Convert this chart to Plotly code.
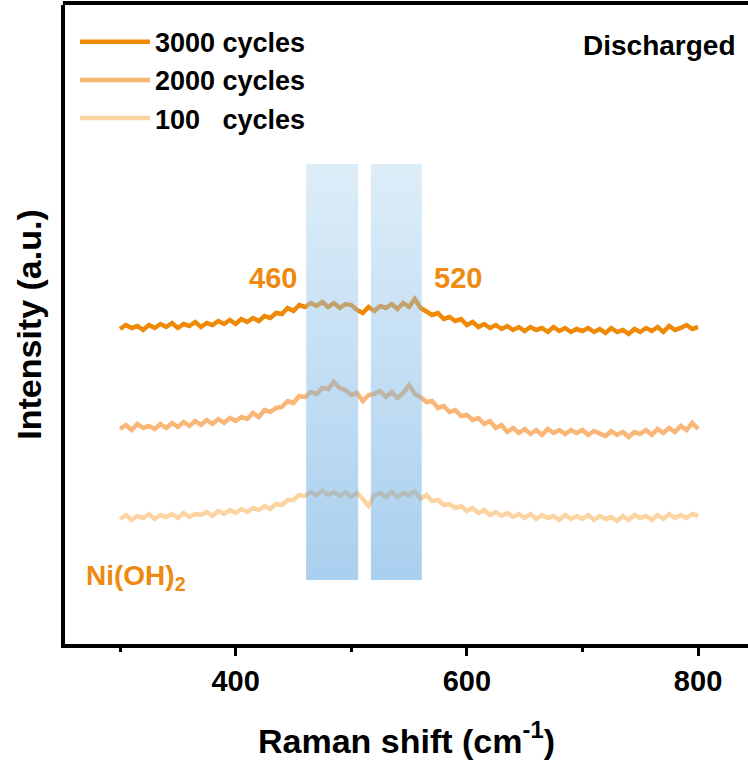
import plotly.graph_objects as go

# ---- data ----
raman_shift = list(range(300, 805, 5))

cycles_3000 = [
    315, 319, 316, 318, 314, 319, 316, 320, 317, 321,
    316, 320, 318, 322, 317, 321, 319, 323, 320, 324,
    320, 325, 322, 326, 323, 328, 326, 331, 330, 336,
    333, 339, 337, 341, 338, 342, 337, 341, 336, 340,
    339, 334, 331, 337, 333, 338, 336, 340, 335, 341,
    337, 345, 336, 333, 329, 331, 325, 327, 323, 325,
    319, 322, 317, 320, 316, 319, 315, 318, 314, 317,
    313, 317, 314, 316, 312, 317, 313, 316, 312, 315,
    313, 316, 312, 315, 311, 316, 312, 314, 310, 315,
    312, 316, 313, 317, 312, 318, 314, 316, 319, 315,
    317,
]
cycles_2000 = [
    215, 219, 214, 220, 216, 218, 215, 220, 216, 221,
    217, 222, 218, 223, 219, 224, 220, 225, 221, 226,
    223, 227, 225, 231, 227, 234, 232, 236, 237, 243,
    241, 248, 247, 252, 250, 256, 255, 262, 256, 254,
    249, 251, 243, 249, 250, 253, 247, 252, 246, 251,
    259, 250, 247, 242, 243, 236, 238, 232, 234, 228,
    229, 224, 226, 220, 223, 216, 219, 212, 216, 211,
    215, 210, 214, 209, 215, 211, 214, 210, 214, 211,
    214, 209, 213, 211, 208, 213, 209, 212, 207, 212,
    210, 214, 209, 215, 211, 216, 212, 218, 214, 221,
    215,
]
cycles_100 = [
    125, 129, 124, 128, 126, 130, 125, 129, 127, 130,
    126, 131, 127, 130, 129, 132, 128, 133, 130, 134,
    131, 135, 132, 136, 134, 138, 135, 140, 139, 144,
    144, 149, 148, 152, 149, 153, 149, 152, 148, 152,
    147, 151, 145, 138, 149, 151, 147, 152, 147, 151,
    149, 153, 145, 149, 143, 144, 139, 140, 136, 138,
    133, 136, 131, 134, 129, 132, 128, 131, 127, 130,
    126, 130, 125, 129, 126, 128, 124, 129, 125, 128,
    125, 129, 124, 128, 125, 127, 123, 128, 124, 129,
    126, 128, 124, 129, 125, 130, 126, 129, 126, 130,
    128,
]

series_names = ["3000 cycles", "2000 cycles", "100\u00a0\u00a0\u00a0cycles"]
series_values = [cycles_3000, cycles_2000, cycles_100]
series_colors = ["#EF8A07", "#F9B677", "#FCD4A2"]

band_ranges = [(461, 506), (517, 561)]   # highlighted Raman bands
band_low, band_high = 64, 480
peak_labels = ["460", "520"]
peak_label_x = [432, 592]
peak_label_y = 366

X_RANGE = [252.4, 843.2]
Y_RANGE = [0, 639]

ORANGE = "#EE8A10"
FONT = "Liberation Sans, Arial, sans-serif"

fig = go.Figure()

for name, vals, col in zip(series_names, series_values, series_colors):
    fig.add_trace(go.Scatter(
        x=raman_shift, y=vals, mode="lines", name=name,
        line=dict(color=col, width=4.5),
    ))

for lo, hi in band_ranges:
    fig.add_trace(go.Scatter(
        x=[lo, hi, hi, lo, lo],
        y=[band_low, band_low, band_high, band_high, band_low],
        mode="lines", fill="toself", line=dict(width=0),
        fillgradient=dict(
            type="vertical",
            colorscale=[[0, "rgba(64,149,218,0.45)"], [1, "rgba(180,215,240,0.45)"]],
        ),
        showlegend=False, hoverinfo="skip",
    ))

for txt, px in zip(peak_labels, peak_label_x):
    fig.add_annotation(x=px, y=peak_label_y, text=txt, showarrow=False,
                       font=dict(family=FONT, size=29, color=ORANGE, weight="bold"))

fig.add_annotation(x=269, y=67, text="Ni(OH)<sub>2</sub>", showarrow=False,
                   xanchor="left", yanchor="middle",
                   font=dict(family=FONT, size=28, color=ORANGE, weight="bold"))

fig.add_annotation(xref="paper", yref="paper", x=0.986, y=0.937,
                   text="Discharged", showarrow=False, xanchor="right", yanchor="middle",
                   font=dict(family=FONT, size=28, color="black", weight="bold"))

# top border (no right border visible in reference)
fig.add_shape(type="line", xref="paper", yref="paper", x0=-0.003, x1=1, y0=1.003, y1=1.003,
              line=dict(color="black", width=4))

fig.update_layout(
    width=748, height=760,
    margin=dict(l=65, r=0, t=5, b=116),
    plot_bgcolor="white", paper_bgcolor="white",
    font=dict(family=FONT, color="black"),
    showlegend=True,
    legend=dict(
        x=0.0146, y=0.98, xanchor="left", yanchor="top",
        font=dict(family=FONT, size=27, color="black", weight="bold"),
        itemwidth=70, bgcolor="rgba(0,0,0,0)", tracegroupgap=0,
    ),
    xaxis=dict(
        range=X_RANGE, showgrid=False, zeroline=False,
        showline=True, linecolor="black", linewidth=4,
        tickmode="array", tickvals=[400, 600, 800],
        ticks="outside", ticklen=8, tickwidth=3, tickcolor="black",
        tickfont=dict(family=FONT, size=29, color="black", weight="bold"),
        minor=dict(tickmode="array", tickvals=[300, 500, 700], ticks="outside",
                   ticklen=4, tickwidth=3, tickcolor="black"),
        title=dict(text="Raman shift (cm<sup>-1</sup>)", standoff=34,
                   font=dict(family=FONT, size=34, color="black", weight="bold")),
    ),
    yaxis=dict(
        range=Y_RANGE, showgrid=False, zeroline=False,
        showline=True, linecolor="black", linewidth=4,
        showticklabels=False, ticks="",
        title=dict(text="Intensity (a.u.)", standoff=10,
                   font=dict(family=FONT, size=34, color="black", weight="bold")),
    ),
)

fig.write_html("out.html")
